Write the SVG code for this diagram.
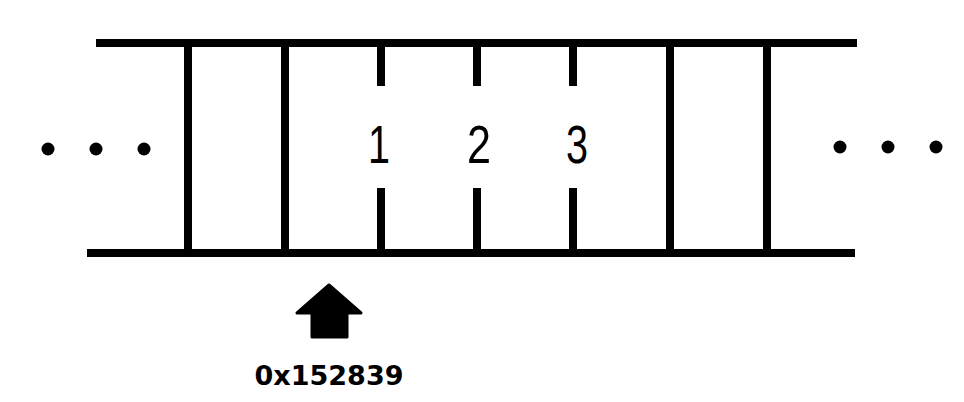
<svg xmlns="http://www.w3.org/2000/svg" width="964" height="402" viewBox="0 0 964 402">
<style>
.ln{stroke:#000;stroke-width:8;fill:none}
.dot{fill:#000}
.num{font-family:"Liberation Sans",Arial,sans-serif;font-size:54px;fill:#000;text-anchor:middle}
.addr{font-family:"DejaVu Sans",Verdana,sans-serif;font-weight:bold;font-size:27px;fill:#000;text-anchor:middle}
</style>
<rect width="964" height="402" fill="#fff"/>
<g id="connectors">
<line class="ln" x1="96" y1="43" x2="857" y2="43"/>
<line class="ln" x1="87" y1="253" x2="855" y2="253"/>
</g>
<g id="cells">
<line class="ln" x1="188" y1="43" x2="188" y2="253"/>
<line class="ln" x1="285" y1="43" x2="285" y2="253"/>
<line class="ln" x1="670" y1="43" x2="670" y2="253"/>
<line class="ln" x1="767" y1="43" x2="767" y2="253"/>
</g>
<g id="byte1">
<line class="ln" x1="381" y1="43" x2="381" y2="86"/>
<line class="ln" x1="381" y1="188" x2="381" y2="253"/>
<text class="num" x="379" y="163" textLength="22" lengthAdjust="spacingAndGlyphs">1</text>
</g>
<g id="byte2">
<line class="ln" x1="477" y1="43" x2="477" y2="86"/>
<line class="ln" x1="477" y1="188" x2="477" y2="253"/>
<text class="num" x="479" y="163" textLength="24" lengthAdjust="spacingAndGlyphs">2</text>
</g>
<g id="byte3">
<line class="ln" x1="573" y1="43" x2="573" y2="86"/>
<line class="ln" x1="573" y1="188" x2="573" y2="253"/>
<text class="num" x="577" y="163" textLength="22" lengthAdjust="spacingAndGlyphs">3</text>
</g>
<g id="dots-left">
<circle class="dot" cx="48" cy="149" r="6.5"/>
<circle class="dot" cx="96" cy="149" r="6.5"/>
<circle class="dot" cx="144" cy="149" r="6.5"/>
</g>
<g id="dots-right">
<circle class="dot" cx="840" cy="147" r="6.5"/>
<circle class="dot" cx="888" cy="147" r="6.5"/>
<circle class="dot" cx="936" cy="147" r="6.5"/>
</g>
<g id="pointer">
<path d="M329,285 L361,313 L347,313 L347,337 L312,337 L312,313 L297,313 Z" fill="#000" stroke="#000" stroke-width="3" stroke-linejoin="round"/>
<text class="addr" x="329" y="385">0x152839</text>
</g>
</svg>
